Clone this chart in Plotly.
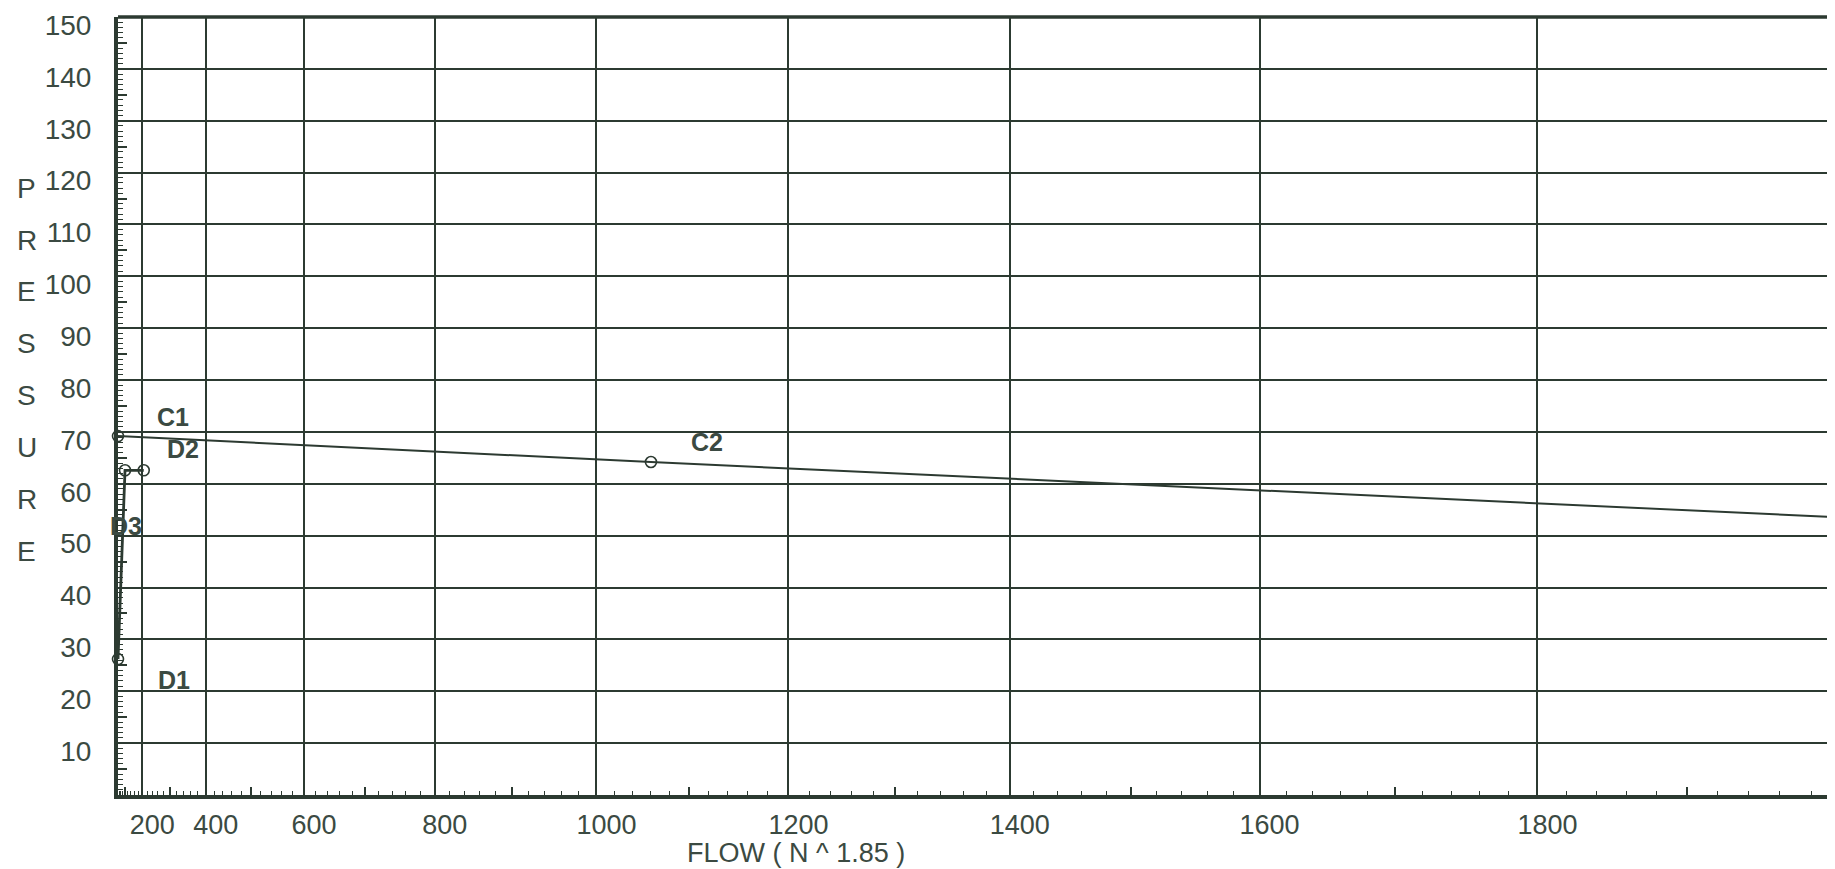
import plotly.graph_objects as go

# ---------------- data ----------------
EXP = 1.85  # hydraulic graph paper: x axis is linear in N^1.85

supply_flow = [0, 1060, 2000]
supply_pressure = [69.2, 64.2, 53.5]
supply_marker_flow = [0, 1060]
supply_marker_pressure = [69.2, 64.2]

demand_flow = [0, 102, 206]
demand_pressure = [26.2, 62.6, 62.6]

grid_flows = [200, 400, 600, 800, 1000, 1200, 1400, 1600, 1800]
grid_labels = ["200", "400", "600", "800", "1000", "1200", "1400", "1600", "1800"]
x_max_flow = 1995

y_ticks = [10, 20, 30, 40, 50, 60, 70, 80, 90, 100, 110, 120, 130, 140, 150]
y_labels = [str(v) for v in y_ticks]

title_letters = ["P", "R", "E", "S", "S", "U", "R", "E"]
title_letter_y = [117.0, 107.0, 97.0, 87.0, 77.0, 67.0, 57.0, 47.0]

point_labels = ["C1", "C2", "D2", "D1", "D3"]
label_flow = [0, 1060, 206, 0, 0]
label_pressure = [69.2, 64.2, 62.6, 26.2, 51.8]
label_dx = [55, 56, 39, 56, 8]
label_dy = [19, 20, 21, -21, 0]

x_title = "FLOW ( N ^ 1.85 )"

# ---------------- styling ----------------
LINE = "#2c3a31"
TEXT = "#3b4a42"
FONT = "Liberation Sans, Arial, sans-serif"

# the page body has an 8px default margin; compensate so the plot lands in place
PAGE_OFF = 8
W, H = 1835 - PAGE_OFF, 869 - PAGE_OFF
ML, MT, MB, MR = 118 - PAGE_OFF, 17 - PAGE_OFF, 74, 0


def tx(n):
    return n ** EXP


minor_x = [tx(v) for v in range(20, 2000, 20) if v % 100 != 0]
long_x = [tx(v) for v in range(100, 2000, 200)]
minor_y = [v for v in range(1, 150) if v % 5 != 0]
long_y = [v for v in range(5, 150, 10)]

fig = go.Figure()

fig.add_trace(go.Scatter(
    x=[tx(v) for v in supply_flow], y=supply_pressure, mode="lines",
    line=dict(color=LINE, width=2), showlegend=False, hoverinfo="skip"))
fig.add_trace(go.Scatter(
    x=[tx(v) for v in supply_marker_flow], y=supply_marker_pressure, mode="markers",
    marker=dict(symbol="circle-open", size=11, color=LINE, line=dict(width=1.6)),
    showlegend=False, cliponaxis=False))
fig.add_trace(go.Scatter(
    x=[tx(v) for v in demand_flow], y=demand_pressure, mode="lines+markers",
    line=dict(color=LINE, width=2.8),
    marker=dict(symbol="circle-open", size=11, color=LINE, line=dict(width=1.6)),
    showlegend=False, cliponaxis=False))
# invisible trace to activate overlay axes (long ticks)
fig.add_trace(go.Scatter(x=[0], y=[0], xaxis="x2", yaxis="y2", mode="markers",
                         marker=dict(opacity=0), showlegend=False, hoverinfo="skip"))

xr = [0, tx(x_max_flow)]
yr = [-0.0001, 150.0001]

fig.update_layout(
    width=W, height=H,
    margin=dict(l=ML, r=MR, t=MT, b=MB, autoexpand=False),
    paper_bgcolor="white", plot_bgcolor="white",
    font=dict(family=FONT, color=TEXT, size=27),
    xaxis=dict(
        range=xr, tickmode="array",
        tickvals=[tx(v) for v in grid_flows], ticktext=grid_labels,
        showgrid=True, gridcolor=LINE, gridwidth=2,
        ticks="inside", ticklen=8, tickwidth=1.5, tickcolor=LINE,
        showline=True, linecolor=LINE, linewidth=4,
        tickfont=dict(size=27, color=TEXT),
        ticklabelshift=10, ticklabelstandoff=3,
        zeroline=False, automargin=False,
        minor=dict(tickmode="array", tickvals=minor_x, ticks="inside", ticklen=4,
                   tickwidth=1.3, tickcolor=LINE, showgrid=False),
    ),
    xaxis2=dict(
        range=xr, overlaying="x", anchor="y", side="bottom",
        tickmode="array", tickvals=long_x, showticklabels=False,
        ticks="inside", ticklen=8, tickwidth=1.5, tickcolor=LINE,
        showgrid=False, zeroline=False, showline=False,
    ),
    yaxis=dict(
        range=yr, tickmode="array", tickvals=y_ticks, ticktext=y_labels,
        showgrid=True, gridcolor=LINE, gridwidth=2,
        ticks="inside", ticklen=8, tickwidth=1.5, tickcolor=LINE,
        showline=True, linecolor=LINE, linewidth=4,
        tickfont=dict(size=28, color=TEXT),
        ticklabelshift=8, ticklabelstandoff=17,
        zeroline=False, automargin=False,
        minor=dict(tickmode="array", tickvals=minor_y, ticks="inside", ticklen=5,
                   tickwidth=1.3, tickcolor=LINE, showgrid=False),
    ),
    yaxis2=dict(
        range=yr, overlaying="y", anchor="x", side="left",
        tickmode="array", tickvals=long_y, showticklabels=False,
        ticks="inside", ticklen=9, tickwidth=1.5, tickcolor=LINE,
        showgrid=False, zeroline=False, showline=False,
    ),
)

# top border
fig.add_shape(type="line", xref="paper", yref="paper", x0=0, x1=1, y0=1, y1=1,
              line=dict(color=LINE, width=3.5))

# x-axis title
fig.add_annotation(text=x_title, xref="paper", yref="paper", x=0.395, y=0,
                   yshift=-58, showarrow=False, xanchor="center", yanchor="middle",
                   font=dict(size=27, color=TEXT, family=FONT))

# vertical "PRESSURE" title
for ch, yv in zip(title_letters, title_letter_y):
    fig.add_annotation(text=ch, xref="paper", yref="y", x=-0.053, y=yv,
                       showarrow=False, xanchor="center", yanchor="middle",
                       font=dict(size=28, color=TEXT, family=FONT))

# point labels
for t, fx, py, dx, dy in zip(point_labels, label_flow, label_pressure, label_dx, label_dy):
    fig.add_annotation(text="<b>" + t + "</b>", x=tx(fx), y=py, xref="x", yref="y",
                       xshift=dx, yshift=dy, showarrow=False,
                       xanchor="center", yanchor="middle",
                       font=dict(size=25, color=TEXT, family=FONT))

fig.write_html("out.html")
